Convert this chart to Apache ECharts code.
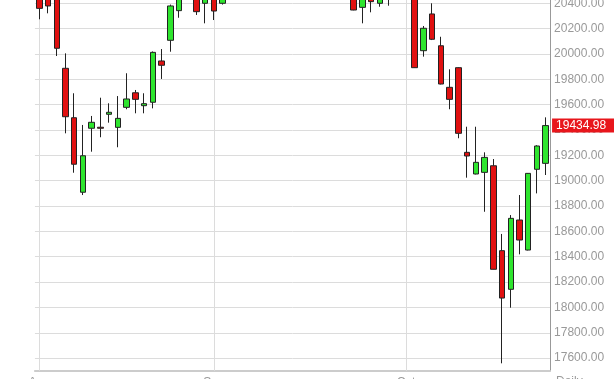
<!DOCTYPE html>
<html>
<head>
<meta charset="utf-8">
<script src="https://cdn.jsdelivr.net/npm/echarts@6/dist/echarts.min.js"></script>
<style>html,body{margin:0;padding:0;background:#fff}#c{width:614px;height:379px}</style>
</head>
<body>
<div id="c"></div>
<script>
// OHLC values: [open, close, low, high]
const opens  = [20470,20440,20430,19887,19497,18909,19414,19422,19524,19421,19579,19694,19592,19619,19945,20108,20342,20470,20500,20400,20450,20400,20480,20550,20620,20580,20690,20740,20700,20800,20760,20820,20730,20650,20600,20520,20490,20368,20470,20400,20460,20500,20560,20520,20026,20316,20065,19737,19892,19224,19053,19066,19118,18448,18143,18690,18453,19090,19137];
const closes = [20360,20379,20045,19505,19130,19197,19461,19414,19540,19492,19645,19642,19608,20013,19911,20379,20460,20520,20334,20460,20339,20480,20550,20620,20580,20690,20740,20700,20800,20760,20820,20730,20650,20600,20520,20490,20347,20470,20413,20460,20500,20560,20520,19892,20203,20116,19763,19642,19374,19195,19145,19184,18301,18074,18703,18532,19058,19274,19434.98];
const lows   = [20274,20321,19984,19374,19063,18887,19229,19343,19458,19264,19564,19532,19532,19571,19803,20018,20286,20440,20308,20242,20268,20390,20450,20510,20540,20560,20650,20660,20680,20710,20720,20690,20600,20560,20480,20460,20345,20242,20329,20373,20381,20470,20480,19890,19979,20110,19760,19564,19335,19024,19050,18755,18300,17559,17998,18419,18450,18900,19045];
const highs  = [20500,20460,20450,20005,19690,19440,19511,19655,19611,19668,19848,19716,19690,20020,20039,20390,20480,20560,20520,20480,20470,20500,20590,20660,20680,20720,20790,20780,20840,20850,20870,20850,20760,20690,20640,20560,20520,20500,20500,20490,20530,20600,20590,20540,20221,20400,20136,19879,19895,19426,19426,19224,19171,18580,18729,18887,19060,19280,19500];
const monthStarts = [0, 20, 42];
const monthNames  = ['Aug', 'Sep', 'Oct'];
const lastPrice = 19434.98;
const timeframe = 'Daily';

const categories = opens.map((_, i) => String(i));
const ohlc = opens.map((o, i) => [o, closes[i], lows[i], highs[i]]);

const chart = echarts.init(document.getElementById('c'), null, {renderer: 'canvas'});
const font = 'Arial, "Liberation Sans", sans-serif';

const vLines = monthStarts.map(i => ({
  xAxis: String(i),
  label: {show: false},
  lineStyle: {color: '#dcdcdc', width: 1, type: 'solid'}
}));

chart.setOption({
  animation: false,
  backgroundColor: '#ffffff',
  grid: {left: 34.93, right: 63.93, top: -9.37, bottom: 8.2, containLabel: false, outerBoundsMode: 'none'},
  xAxis: {
    type: 'category',
    data: categories,
    boundaryGap: true,
    axisLine: {show: true, lineStyle: {color: '#cccccc', width: 2}},
    axisTick: {show: false},
    splitLine: {show: false},
    axisLabel: {
      interval: (idx) => monthStarts.includes(idx),
      formatter: (v, idx) => { const k = monthStarts.indexOf(Number(v)); return k >= 0 ? monthNames[k] : ''; },
      margin: 6,
      color: '#999999',
      fontSize: 12,
      fontFamily: font
    }
  },
  yAxis: {
    type: 'value',
    position: 'right',
    min: 17500,
    max: 20500,
    interval: 100,
    scale: true,
    axisLine: {show: true, lineStyle: {color: '#999999', width: 1}},
    axisTick: {show: false},
    splitLine: {show: true, lineStyle: {color: ['rgba(0,0,0,0)', '#dcdcdc'], width: 1}},
    axisLabel: {
      margin: 4,
      color: '#999999',
      fontSize: 12,
      fontFamily: font,
      formatter: (v) => (Math.round(v) % 200 === 0 ? v.toFixed(2) : '')
    }
  },
  series: [{
    type: 'candlestick',
    data: ohlc,
    barWidth: 6,
    itemStyle: {
      color: '#2ee52e',
      color0: '#e01010',
      borderColor: '#222222',
      borderColor0: '#222222',
      borderWidth: 1
    },
    markLine: {
      z: 1,
      silent: true,
      symbol: ['none', 'none'],
      animation: false,
      data: vLines.concat([{
        yAxis: lastPrice,
        lineStyle: {color: 'rgba(0,0,0,0)', width: 0},
        label: {
          show: true,
          position: 'end',
          distance: 2,
          formatter: () => lastPrice.toFixed(2),
          color: '#ffffff',
          backgroundColor: '#e8161c',
          fontSize: 12,
          fontFamily: font,
          padding: [1, 10, 0, 4],
          lineHeight: 13
        }
      }])
    }
  }],
  graphic: [{
    type: 'text',
    left: 556,
    top: 376,
    style: {text: timeframe, fill: '#999999', font: '12px ' + font}
  }]
});
</script>
</body>
</html>
